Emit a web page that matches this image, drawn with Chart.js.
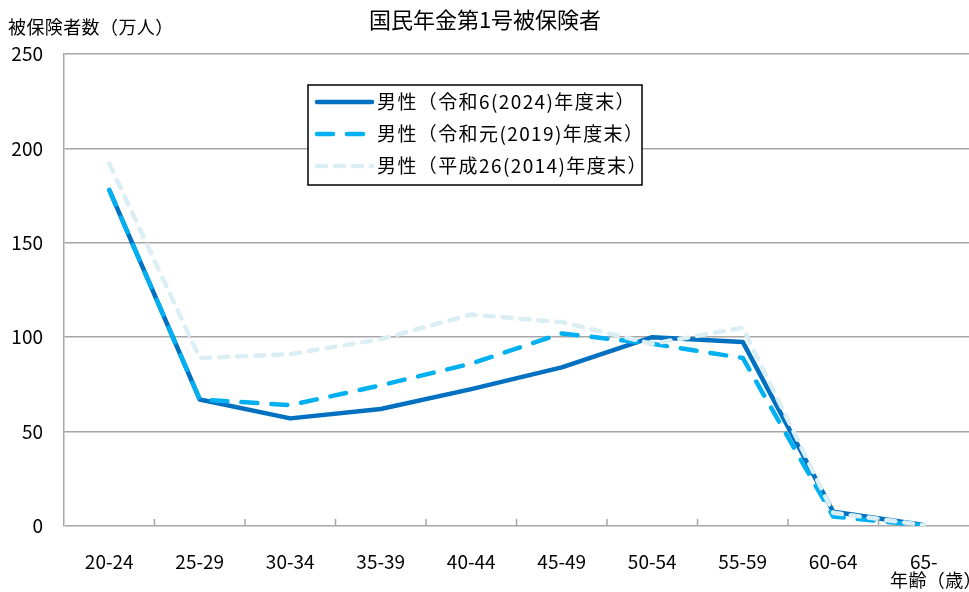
<!DOCTYPE html>
<html lang="ja">
<head>
<meta charset="UTF-8">
<title>国民年金第1号被保険者</title>
<script src="https://cdn.jsdelivr.net/npm/chart.js"></script>
<style>
  html, body { margin: 0; padding: 0; background: #fff; }
  #wrap { width: 969px; height: 592px; }
</style>
</head>
<body>
<div id="wrap"><canvas id="chart"></canvas></div>
<script>
// 年齢階級
const ageGroups = ['20-24', '25-29', '30-34', '35-39', '40-44', '45-49', '50-54', '55-59', '60-64', '65-'];
// 被保険者数（万人）
const male2024 = [178, 67, 57, 62, 72.5, 84, 100, 97.5, 7.5, 0.5];
const male2019 = [178, 67, 64, 74.5, 86, 102, 96.5, 89, 5, 0.3];
const male2014 = [192, 89, 91, 99, 112, 108, 96.5, 105, 7, 0.5];
const yTicks = [0, 50, 100, 150, 200, 250];

const FONT = '"Noto Sans CJK JP", "Noto Sans", sans-serif';
const GRID = '#a6a6a6';

// 凡例・見出し・目盛りを描く
const extras = {
  id: 'extras',
  afterDraw(chart) {
    const ctx = chart.ctx;
    const area = chart.chartArea;
    const x = chart.scales.x;
    ctx.save();

    // x軸の目盛り（内向き）
    ctx.strokeStyle = GRID;
    ctx.lineWidth = 1.5;
    for (let i = 1; i < ageGroups.length; i++) {
      const px = (x.getPixelForValue(i - 1) + x.getPixelForValue(i)) / 2;
      ctx.beginPath();
      ctx.moveTo(px, area.bottom);
      ctx.lineTo(px, area.bottom - 7);
      ctx.stroke();
    }

    ctx.fillStyle = '#000';
    ctx.textBaseline = 'middle';
    ctx.font = '22px ' + FONT;
    ctx.textAlign = 'center';
    ctx.fillText('国民年金第1号被保険者', 485, 20);

    ctx.font = '18px ' + FONT;
    ctx.letterSpacing = '0.4px';
    ctx.textAlign = 'left';
    ctx.fillText('被保険者数（万人）', 8, 27);
    ctx.textAlign = 'right';
    ctx.fillText('年齢（歳）', 982, 580);

    // 凡例
    const bx = 308, by = 85, bw = 334, bh = 100;
    ctx.fillStyle = '#fff';
    ctx.fillRect(bx, by, bw, bh);
    ctx.strokeStyle = '#000';
    ctx.lineWidth = 1.5;
    ctx.strokeRect(bx, by, bw, bh);
    ctx.font = '19px ' + FONT;
    ctx.letterSpacing = '1.4px';
    ctx.textAlign = 'left';
    chart.data.datasets.forEach((ds, i) => {
      const y = by + 17 + i * 32;
      ctx.strokeStyle = ds.borderColor;
      ctx.lineWidth = ds.borderWidth;
      ctx.lineCap = 'round';
      ctx.setLineDash(ds.borderDash || []);
      ctx.beginPath();
      ctx.moveTo(317, y);
      ctx.lineTo(372, y);
      ctx.stroke();
      ctx.setLineDash([]);
      ctx.fillStyle = '#000';
      ctx.fillText(ds.label, 377, y);
    });
    ctx.restore();
  }
};

new Chart(document.getElementById('chart'), {
  type: 'line',
  data: {
    labels: ageGroups,
    datasets: [
      {
        label: '男性（令和6(2024)年度末）',
        data: male2024,
        borderColor: '#0070C0',
        borderWidth: 4.5,
        order: 3
      },
      {
        label: '男性（令和元(2019)年度末）',
        data: male2019,
        borderColor: '#00B0F0',
        borderWidth: 4.5,
        borderDash: [16, 14],
        borderCapStyle: 'round',
        order: 2
      },
      {
        label: '男性（平成26(2014)年度末）',
        data: male2014,
        borderColor: '#DAEEF3',
        borderWidth: 4.5,
        borderDash: [9, 9],
        borderCapStyle: 'round',
        order: 1
      }
    ]
  },
  options: {
    responsive: true,
    maintainAspectRatio: false,
    animation: false,
    layout: { padding: { top: 54, right: 0, bottom: 0, left: 0 } },
    elements: {
      line: { tension: 0, borderJoinStyle: 'round', fill: false },
      point: { radius: 0, hoverRadius: 0 }
    },
    plugins: {
      legend: { display: false },
      title: { display: false },
      tooltip: { enabled: false }
    },
    scales: {
      x: {
        offset: true,
        grid: { display: false },
        border: { display: false },
        ticks: { color: '#000', font: { family: FONT, size: 19 }, padding: 16, maxRotation: 0 },
        afterFit(scale) { scale.height = 66; }
      },
      y: {
        min: 0,
        max: 250,
        afterBuildTicks(scale) { scale.ticks = yTicks.map(v => ({ value: v })); },
        grid: { color: GRID, lineWidth: 1.5, drawTicks: false },
        border: { display: true, color: GRID, width: 1.5 },
        ticks: { color: '#000', font: { family: FONT, size: 19 }, padding: 21 },
        afterFit(scale) { scale.width = 64; }
      }
    }
  },
  plugins: [extras]
});
</script>
</body>
</html>
